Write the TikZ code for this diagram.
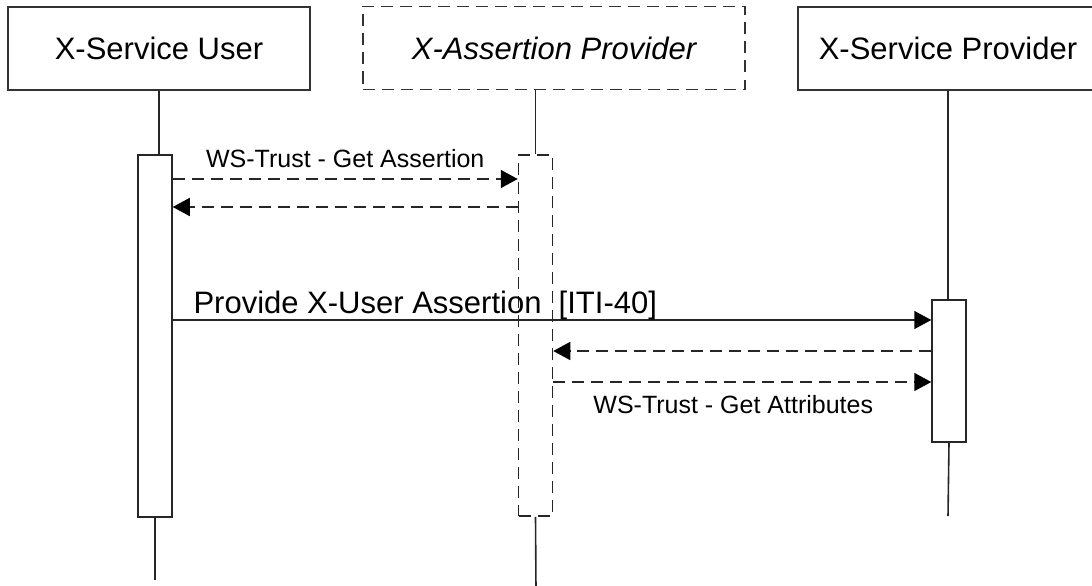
\documentclass[tikz,border=0pt]{standalone}
\usepackage{fontspec}
\setmainfont{Liberation Sans}
\usepackage{tikz}
\usetikzlibrary{shapes}
\usetikzlibrary{arrows.meta}
\tikzset{
  actor node/.style={rectangle,draw=black!80,line width=1.5pt,minimum height=83pt,inner sep=0pt,font=\fontsize{31}{36}\selectfont},
  bar node/.style={rectangle,draw=black!85,line width=1.5pt,minimum width=34pt,inner sep=0pt},
  gapline/.style={dash pattern=on 12pt off 7pt},
  msg/.style={draw=black!85,line width=1.6pt},
  small label/.style={font=\fontsize{25}{30}\selectfont,inner sep=0pt}
}

\begin{document}
\begin{tikzpicture}[x=1pt,y=-1pt,>={Triangle[length=17pt,width=18pt,color=black]}]
  \useasboundingbox (0,0) rectangle (1092,586);
  % participants
  \node[actor node,minimum width=302pt] (user) at (159,48.5) {X-Service User};
  \node[actor node,minimum width=382pt,gapline,font=\fontsize{31}{36}\selectfont\itshape] (asp) at (554,48) {X-Assertion Provider};
  \node[actor node,minimum width=300pt] (xsp) at (948,48.5) {X-Service Provider};
  % activations
  \node[bar node,minimum height=362pt] (act1) at (155,336) {};
  \node[bar node,minimum height=361pt,gapline] (act2) at (535.5,335.5) {};
  \node[bar node,minimum height=142pt] (act3) at (949,371) {};
  \coordinate (end1) at (155,580);
  \coordinate (end2) at (536,590);
  \coordinate (end3) at (948,516);
  % lifelines
  \draw[msg] (user.south) -- (user.south |- act1.north);
  \draw[msg] (act1.south) -- (end1);
  \draw[msg] (act2.north |- asp.south) -- (act2.north);
  \draw[msg] (act2.south) -- (end2);
  \draw[msg] (xsp.south) -- (xsp.south |- act3.north);
  \draw[msg] (act3.south) -- (end3);
  % messages
  \coordinate (r1) at (0,179);
  \coordinate (r2) at (0,207);
  \coordinate (r3) at (0,320);
  \coordinate (r4) at (0,351);
  \coordinate (r5) at (0,382);
  \draw[msg,gapline,->] (act1.east |- r1) -- (act2.west |- r1)
    node[midway,anchor=base,yshift=12pt,small label] {WS-Trust - Get Assertion};
  \draw[msg,gapline,->] (act2.west |- r2) -- (act1.east |- r2);
  \draw[msg,->] (act1.east |- r3) -- (act3.west |- r3)
    node[pos=0,anchor=base west,xshift=20pt,yshift=7pt,inner sep=0pt,font=\fontsize{31}{36}\selectfont] {Provide X-User Assertion \ [ITI-40]};
  \draw[msg,gapline,->] (act3.west |- r4) -- (act2.east |- r4);
  \draw[msg,gapline,->] (act2.east |- r5) -- (act3.west |- r5)
    node[midway,anchor=base,yshift=-31pt,xshift=-9pt,small label] {WS-Trust - Get Attributes};
\end{tikzpicture}
\end{document}
